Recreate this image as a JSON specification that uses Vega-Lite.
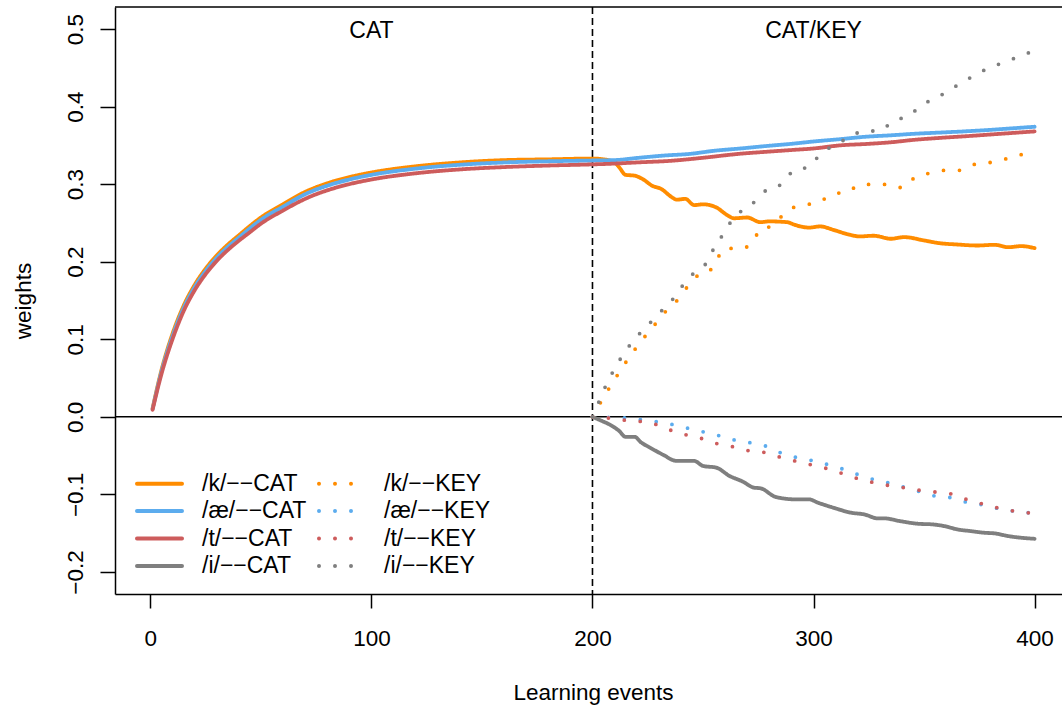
{
  "$schema": "https://vega.github.io/schema/vega-lite/v6.json",
  "width": 947,
  "height": 587,
  "autosize": {"type": "none"},
  "padding": {"left": 115, "top": 7, "right": 0, "bottom": 114},
  "background": "white",
  "config": {
    "font": "Liberation Sans",
    "view": {"stroke": null},
    "axis": {"grid": false, "domainColor": "black", "domainWidth": 1.5, "tickColor": "black", "tickWidth": 1.5, "labelColor": "black", "titleColor": "black", "labelFontSize": 22.5, "titleFontSize": 22.5, "titleFontWeight": "normal", "labelOverlap": false, "labelFlush": false}
  },
  "datasets": {
    "one": [{}],
    "series": [
    {"s":"/k/−−CAT","x":1,"w":0.011},{"s":"/k/−−CAT","x":5,"w":0.060},{"s":"/k/−−CAT","x":10,"w":0.107},{"s":"/k/−−CAT","x":15,"w":0.143},{"s":"/k/−−CAT","x":20,"w":0.170},{"s":"/k/−−CAT","x":25,"w":0.191},{"s":"/k/−−CAT","x":30,"w":0.208},{"s":"/k/−−CAT","x":35,"w":0.222},{"s":"/k/−−CAT","x":40,"w":0.234},{"s":"/k/−−CAT","x":45,"w":0.246},{"s":"/k/−−CAT","x":50,"w":0.257},{"s":"/k/−−CAT","x":60,"w":0.274},{"s":"/k/−−CAT","x":70,"w":0.290},{"s":"/k/−−CAT","x":80,"w":0.301},{"s":"/k/−−CAT","x":90,"w":0.309},{"s":"/k/−−CAT","x":100,"w":0.315},{"s":"/k/−−CAT","x":120,"w":0.323},{"s":"/k/−−CAT","x":140,"w":0.328},{"s":"/k/−−CAT","x":160,"w":0.331},{"s":"/k/−−CAT","x":180,"w":0.332},{"s":"/k/−−CAT","x":200,"w":0.333},
    {"s":"/k/−−CAT","x":205,"w":0.332},{"s":"/k/−−CAT","x":210,"w":0.328},{"s":"/k/−−CAT","x":212,"w":0.322},{"s":"/k/−−CAT","x":215,"w":0.312},{"s":"/k/−−CAT","x":219,"w":0.311},{"s":"/k/−−CAT","x":223,"w":0.306},{"s":"/k/−−CAT","x":227,"w":0.298},{"s":"/k/−−CAT","x":231,"w":0.294},{"s":"/k/−−CAT","x":236,"w":0.283},{"s":"/k/−−CAT","x":238,"w":0.280},{"s":"/k/−−CAT","x":242,"w":0.281},{"s":"/k/−−CAT","x":246,"w":0.273},{"s":"/k/−−CAT","x":250,"w":0.274},{"s":"/k/−−CAT","x":256,"w":0.270},{"s":"/k/−−CAT","x":261,"w":0.260},{"s":"/k/−−CAT","x":264,"w":0.256},{"s":"/k/−−CAT","x":270,"w":0.257},{"s":"/k/−−CAT","x":276,"w":0.251},{"s":"/k/−−CAT","x":280,"w":0.252},{"s":"/k/−−CAT","x":288,"w":0.251},{"s":"/k/−−CAT","x":292,"w":0.247},{"s":"/k/−−CAT","x":298,"w":0.244},{"s":"/k/−−CAT","x":303,"w":0.2455},{"s":"/k/−−CAT","x":309,"w":0.241},{"s":"/k/−−CAT","x":316,"w":0.235},{"s":"/k/−−CAT","x":321,"w":0.2326},{"s":"/k/−−CAT","x":327,"w":0.2335},{"s":"/k/−−CAT","x":335,"w":0.2296},{"s":"/k/−−CAT","x":341,"w":0.2317},{"s":"/k/−−CAT","x":350,"w":0.2274},{"s":"/k/−−CAT","x":357,"w":0.2239},{"s":"/k/−−CAT","x":365,"w":0.2222},{"s":"/k/−−CAT","x":374,"w":0.2209},{"s":"/k/−−CAT","x":382,"w":0.2218},{"s":"/k/−−CAT","x":388,"w":0.2187},{"s":"/k/−−CAT","x":394,"w":0.2201},{"s":"/k/−−CAT","x":400,"w":0.2175},

    {"s":"/æ/−−CAT","x":1,"w":0.010},{"s":"/æ/−−CAT","x":5,"w":0.058},{"s":"/æ/−−CAT","x":10,"w":0.104},{"s":"/æ/−−CAT","x":15,"w":0.140},{"s":"/æ/−−CAT","x":20,"w":0.167},{"s":"/æ/−−CAT","x":25,"w":0.188},{"s":"/æ/−−CAT","x":30,"w":0.205},{"s":"/æ/−−CAT","x":35,"w":0.219},{"s":"/æ/−−CAT","x":40,"w":0.231},{"s":"/æ/−−CAT","x":45,"w":0.243},{"s":"/æ/−−CAT","x":50,"w":0.254},{"s":"/æ/−−CAT","x":60,"w":0.271},{"s":"/æ/−−CAT","x":70,"w":0.287},{"s":"/æ/−−CAT","x":80,"w":0.298},{"s":"/æ/−−CAT","x":90,"w":0.306},{"s":"/æ/−−CAT","x":100,"w":0.312},{"s":"/æ/−−CAT","x":120,"w":0.320},{"s":"/æ/−−CAT","x":140,"w":0.325},{"s":"/æ/−−CAT","x":160,"w":0.328},{"s":"/æ/−−CAT","x":180,"w":0.3295},{"s":"/æ/−−CAT","x":200,"w":0.3305},
    {"s":"/æ/−−CAT","x":210,"w":0.331},{"s":"/æ/−−CAT","x":221,"w":0.334},{"s":"/æ/−−CAT","x":233,"w":0.337},{"s":"/æ/−−CAT","x":244,"w":0.339},{"s":"/æ/−−CAT","x":255,"w":0.343},{"s":"/æ/−−CAT","x":267,"w":0.346},{"s":"/æ/−−CAT","x":278,"w":0.349},{"s":"/æ/−−CAT","x":290,"w":0.352},{"s":"/æ/−−CAT","x":300,"w":0.355},{"s":"/æ/−−CAT","x":312,"w":0.358},{"s":"/æ/−−CAT","x":323,"w":0.361},{"s":"/æ/−−CAT","x":335,"w":0.363},{"s":"/æ/−−CAT","x":346,"w":0.365},{"s":"/æ/−−CAT","x":357,"w":0.3665},{"s":"/æ/−−CAT","x":368,"w":0.368},{"s":"/æ/−−CAT","x":380,"w":0.370},{"s":"/æ/−−CAT","x":390,"w":0.372},{"s":"/æ/−−CAT","x":400,"w":0.374},

    {"s":"/t/−−CAT","x":1,"w":0.009},{"s":"/t/−−CAT","x":5,"w":0.055},{"s":"/t/−−CAT","x":10,"w":0.100},{"s":"/t/−−CAT","x":15,"w":0.136},{"s":"/t/−−CAT","x":20,"w":0.163},{"s":"/t/−−CAT","x":25,"w":0.184},{"s":"/t/−−CAT","x":30,"w":0.201},{"s":"/t/−−CAT","x":35,"w":0.215},{"s":"/t/−−CAT","x":40,"w":0.227},{"s":"/t/−−CAT","x":45,"w":0.238},{"s":"/t/−−CAT","x":50,"w":0.249},{"s":"/t/−−CAT","x":60,"w":0.266},{"s":"/t/−−CAT","x":70,"w":0.281},{"s":"/t/−−CAT","x":80,"w":0.292},{"s":"/t/−−CAT","x":90,"w":0.300},{"s":"/t/−−CAT","x":100,"w":0.306},{"s":"/t/−−CAT","x":120,"w":0.314},{"s":"/t/−−CAT","x":140,"w":0.319},{"s":"/t/−−CAT","x":160,"w":0.322},{"s":"/t/−−CAT","x":180,"w":0.324},{"s":"/t/−−CAT","x":200,"w":0.3255},
    {"s":"/t/−−CAT","x":210,"w":0.3265},{"s":"/t/−−CAT","x":220,"w":0.328},{"s":"/t/−−CAT","x":235,"w":0.330},{"s":"/t/−−CAT","x":250,"w":0.334},{"s":"/t/−−CAT","x":266,"w":0.339},{"s":"/t/−−CAT","x":280,"w":0.342},{"s":"/t/−−CAT","x":290,"w":0.344},{"s":"/t/−−CAT","x":300,"w":0.346},{"s":"/t/−−CAT","x":312,"w":0.350},{"s":"/t/−−CAT","x":325,"w":0.352},{"s":"/t/−−CAT","x":335,"w":0.354},{"s":"/t/−−CAT","x":345,"w":0.357},{"s":"/t/−−CAT","x":357,"w":0.3596},{"s":"/t/−−CAT","x":370,"w":0.362},{"s":"/t/−−CAT","x":380,"w":0.364},{"s":"/t/−−CAT","x":390,"w":0.366},{"s":"/t/−−CAT","x":400,"w":0.368},

    {"s":"/i/−−CAT","x":200,"w":0},{"s":"/i/−−CAT","x":204,"w":-0.005},{"s":"/i/−−CAT","x":208,"w":-0.0103},{"s":"/i/−−CAT","x":212,"w":-0.018},{"s":"/i/−−CAT","x":215,"w":-0.0258},{"s":"/i/−−CAT","x":219,"w":-0.0258},{"s":"/i/−−CAT","x":222,"w":-0.033},{"s":"/i/−−CAT","x":226,"w":-0.0396},{"s":"/i/−−CAT","x":232,"w":-0.049},{"s":"/i/−−CAT","x":238,"w":-0.0568},{"s":"/i/−−CAT","x":246,"w":-0.0568},{"s":"/i/−−CAT","x":250,"w":-0.0633},{"s":"/i/−−CAT","x":256,"w":-0.0655},{"s":"/i/−−CAT","x":262,"w":-0.0762},{"s":"/i/−−CAT","x":268,"w":-0.0835},{"s":"/i/−−CAT","x":273,"w":-0.0913},{"s":"/i/−−CAT","x":276,"w":-0.0921},{"s":"/i/−−CAT","x":283,"w":-0.1034},{"s":"/i/−−CAT","x":292,"w":-0.1064},{"s":"/i/−−CAT","x":298,"w":-0.1064},{"s":"/i/−−CAT","x":302,"w":-0.1107},{"s":"/i/−−CAT","x":309,"w":-0.1172},{"s":"/i/−−CAT","x":317,"w":-0.1236},{"s":"/i/−−CAT","x":323,"w":-0.1258},{"s":"/i/−−CAT","x":329,"w":-0.1309},{"s":"/i/−−CAT","x":332,"w":-0.1309},{"s":"/i/−−CAT","x":339,"w":-0.1344},{"s":"/i/−−CAT","x":347,"w":-0.1378},{"s":"/i/−−CAT","x":354,"w":-0.1387},{"s":"/i/−−CAT","x":359,"w":-0.1408},{"s":"/i/−−CAT","x":365,"w":-0.1451},{"s":"/i/−−CAT","x":371,"w":-0.1473},{"s":"/i/−−CAT","x":377,"w":-0.1494},{"s":"/i/−−CAT","x":382,"w":-0.1503},{"s":"/i/−−CAT","x":388,"w":-0.1537},{"s":"/i/−−CAT","x":394,"w":-0.1559},{"s":"/i/−−CAT","x":400,"w":-0.1572},

    {"s":"/k/−−KEY","x":200,"w":0},{"s":"/k/−−KEY","x":205,"w":0.025},{"s":"/k/−−KEY","x":210,"w":0.048},{"s":"/k/−−KEY","x":215,"w":0.070},{"s":"/k/−−KEY","x":220,"w":0.090},{"s":"/k/−−KEY","x":225,"w":0.108},{"s":"/k/−−KEY","x":230,"w":0.125},{"s":"/k/−−KEY","x":235,"w":0.142},{"s":"/k/−−KEY","x":239,"w":0.152},{"s":"/k/−−KEY","x":243,"w":0.168},{"s":"/k/−−KEY","x":247,"w":0.181},{"s":"/k/−−KEY","x":252,"w":0.185},{"s":"/k/−−KEY","x":256,"w":0.2016},{"s":"/k/−−KEY","x":260,"w":0.2175},{"s":"/k/−−KEY","x":266,"w":0.2166},{"s":"/k/−−KEY","x":272,"w":0.2226},{"s":"/k/−−KEY","x":276,"w":0.2425},{"s":"/k/−−KEY","x":281,"w":0.2459},{"s":"/k/−−KEY","x":286,"w":0.2597},{"s":"/k/−−KEY","x":291,"w":0.270},{"s":"/k/−−KEY","x":297,"w":0.2735},{"s":"/k/−−KEY","x":303,"w":0.2778},{"s":"/k/−−KEY","x":309,"w":0.2877},{"s":"/k/−−KEY","x":315,"w":0.2894},{"s":"/k/−−KEY","x":321,"w":0.2993},{"s":"/k/−−KEY","x":327,"w":0.2997},{"s":"/k/−−KEY","x":334,"w":0.2997},{"s":"/k/−−KEY","x":340,"w":0.2955},{"s":"/k/−−KEY","x":346,"w":0.3088},{"s":"/k/−−KEY","x":353,"w":0.3144},{"s":"/k/−−KEY","x":360,"w":0.3178},{"s":"/k/−−KEY","x":366,"w":0.3178},{"s":"/k/−−KEY","x":373,"w":0.3256},{"s":"/k/−−KEY","x":380,"w":0.328},{"s":"/k/−−KEY","x":387,"w":0.3325},{"s":"/k/−−KEY","x":394,"w":0.338},{"s":"/k/−−KEY","x":400,"w":0.341},

    {"s":"/æ/−−KEY","x":200,"w":0},{"s":"/æ/−−KEY","x":210,"w":-0.001},{"s":"/æ/−−KEY","x":217,"w":-0.002},{"s":"/æ/−−KEY","x":225,"w":-0.005},{"s":"/æ/−−KEY","x":233,"w":-0.008},{"s":"/æ/−−KEY","x":241,"w":-0.0133},{"s":"/æ/−−KEY","x":248,"w":-0.018},{"s":"/æ/−−KEY","x":256,"w":-0.0233},{"s":"/æ/−−KEY","x":264,"w":-0.0297},{"s":"/æ/−−KEY","x":271,"w":-0.0332},{"s":"/æ/−−KEY","x":279,"w":-0.0383},{"s":"/æ/−−KEY","x":286,"w":-0.0474},{"s":"/æ/−−KEY","x":294,"w":-0.0534},{"s":"/æ/−−KEY","x":301,"w":-0.0573},{"s":"/æ/−−KEY","x":309,"w":-0.0637},{"s":"/æ/−−KEY","x":316,"w":-0.0698},{"s":"/æ/−−KEY","x":323,"w":-0.0775},{"s":"/æ/−−KEY","x":331,"w":-0.0831},{"s":"/æ/−−KEY","x":339,"w":-0.0891},{"s":"/æ/−−KEY","x":346,"w":-0.0947},{"s":"/æ/−−KEY","x":354,"w":-0.1016},{"s":"/æ/−−KEY","x":362,"w":-0.1042},{"s":"/æ/−−KEY","x":370,"w":-0.1107},{"s":"/æ/−−KEY","x":378,"w":-0.1141},{"s":"/æ/−−KEY","x":385,"w":-0.1193},{"s":"/æ/−−KEY","x":393,"w":-0.1223},{"s":"/æ/−−KEY","x":400,"w":-0.1245},

    {"s":"/t/−−KEY","x":200,"w":0},{"s":"/t/−−KEY","x":209,"w":-0.002},{"s":"/t/−−KEY","x":217,"w":-0.0052},{"s":"/t/−−KEY","x":225,"w":-0.0065},{"s":"/t/−−KEY","x":232,"w":-0.0138},{"s":"/t/−−KEY","x":240,"w":-0.0216},{"s":"/t/−−KEY","x":248,"w":-0.0267},{"s":"/t/−−KEY","x":255,"w":-0.0336},{"s":"/t/−−KEY","x":263,"w":-0.0383},{"s":"/t/−−KEY","x":271,"w":-0.0439},{"s":"/t/−−KEY","x":279,"w":-0.0465},{"s":"/t/−−KEY","x":286,"w":-0.053},{"s":"/t/−−KEY","x":294,"w":-0.0585},{"s":"/t/−−KEY","x":301,"w":-0.0633},{"s":"/t/−−KEY","x":309,"w":-0.0689},{"s":"/t/−−KEY","x":316,"w":-0.0762},{"s":"/t/−−KEY","x":324,"w":-0.0827},{"s":"/t/−−KEY","x":332,"w":-0.0875},{"s":"/t/−−KEY","x":339,"w":-0.0904},{"s":"/t/−−KEY","x":347,"w":-0.0943},{"s":"/t/−−KEY","x":355,"w":-0.0969},{"s":"/t/−−KEY","x":363,"w":-0.0999},{"s":"/t/−−KEY","x":370,"w":-0.1072},{"s":"/t/−−KEY","x":378,"w":-0.1133},{"s":"/t/−−KEY","x":386,"w":-0.1193},{"s":"/t/−−KEY","x":394,"w":-0.1227},{"s":"/t/−−KEY","x":400,"w":-0.1245},

    {"s":"/i/−−KEY","x":200,"w":0},{"s":"/i/−−KEY","x":203,"w":0.020},{"s":"/i/−−KEY","x":206,"w":0.040},{"s":"/i/−−KEY","x":210,"w":0.062},{"s":"/i/−−KEY","x":215,"w":0.085},{"s":"/i/−−KEY","x":220,"w":0.103},{"s":"/i/−−KEY","x":225,"w":0.118},{"s":"/i/−−KEY","x":230,"w":0.133},{"s":"/i/−−KEY","x":237,"w":0.154},{"s":"/i/−−KEY","x":241,"w":0.170},{"s":"/i/−−KEY","x":246,"w":0.1857},{"s":"/i/−−KEY","x":251,"w":0.1964},{"s":"/i/−−KEY","x":255,"w":0.2175},{"s":"/i/−−KEY","x":259,"w":0.235},{"s":"/i/−−KEY","x":263,"w":0.253},{"s":"/i/−−KEY","x":268,"w":0.267},{"s":"/i/−−KEY","x":274,"w":0.2787},{"s":"/i/−−KEY","x":279,"w":0.2933},{"s":"/i/−−KEY","x":286,"w":0.3006},{"s":"/i/−−KEY","x":291,"w":0.3178},{"s":"/i/−−KEY","x":298,"w":0.3226},{"s":"/i/−−KEY","x":303,"w":0.3385},{"s":"/i/−−KEY","x":309,"w":0.3497},{"s":"/i/−−KEY","x":316,"w":0.360},{"s":"/i/−−KEY","x":322,"w":0.368},{"s":"/i/−−KEY","x":330,"w":0.369},{"s":"/i/−−KEY","x":336,"w":0.3815},{"s":"/i/−−KEY","x":343,"w":0.388},{"s":"/i/−−KEY","x":349,"w":0.402},{"s":"/i/−−KEY","x":356,"w":0.412},{"s":"/i/−−KEY","x":366,"w":0.429},{"s":"/i/−−KEY","x":378,"w":0.448},{"s":"/i/−−KEY","x":388,"w":0.459},{"s":"/i/−−KEY","x":397,"w":0.469},{"s":"/i/−−KEY","x":400,"w":0.472}
    ]
  },
  "layer": [
    {
      "data": {"name": "one"},
      "mark": {"type": "rule", "color": "black", "strokeWidth": 1.5},
      "encoding": {"y": {"datum": 0.5284}}
    },
    {
      "data": {"name": "one"},
      "mark": {"type": "rule", "color": "black", "strokeWidth": 1.5},
      "encoding": {"y": {"datum": 0}}
    },
    {
      "data": {"name": "one"},
      "mark": {"type": "rule", "color": "black", "strokeWidth": 1.6, "strokeDash": [7, 4]},
      "encoding": {"x": {"datum": 200}}
    },
    {
      "data": {"name": "one"},
      "mark": {"type": "text", "text": "CAT", "fontSize": 23, "baseline": "middle", "align": "center", "color": "black"},
      "encoding": {"x": {"datum": 100}, "y": {"datum": 0.497}}
    },
    {
      "data": {"name": "one"},
      "mark": {"type": "text", "text": "CAT/KEY", "fontSize": 23, "baseline": "middle", "align": "center", "color": "black"},
      "encoding": {"x": {"datum": 300}, "y": {"datum": 0.497}}
    },
    {
      "data": {"name": "series"},
      "mark": {"type": "line", "strokeWidth": 3.8, "strokeCap": "round", "strokeJoin": "round", "interpolate": "monotone"},
      "encoding": {
        "x": {"field": "x", "type": "quantitative"},
        "y": {"field": "w", "type": "quantitative"},
        "color": {
          "field": "s", "type": "nominal",
          "scale": {
            "domain": ["/k/−−CAT", "/æ/−−CAT", "/t/−−CAT", "/i/−−CAT", "/k/−−KEY", "/æ/−−KEY", "/t/−−KEY", "/i/−−KEY"],
            "range": ["#FF8C00", "#5CACEE", "#CD5C5C", "#7F7F7F", "#FF8C00", "#5CACEE", "#CD5C5C", "#7F7F7F"]
          },
          "legend": {
            "title": null, "orient": "none", "legendX": 31, "legendY": 463, "columns": 2,
            "symbolType": "M-2,0L2,0", "symbolSize": 506.25, "symbolStrokeWidth": 4,
            "labelFontSize": 23, "labelColor": "black", "labelOffset": 29, "labelLimit": 0,
            "columnPadding": 4, "rowPadding": 1.5,
            "encode": {"symbols": {"update": {"strokeCap": {"value": "round"}}}}
          }
        },
        "strokeDash": {
          "field": "s", "type": "nominal",
          "scale": {
            "domain": ["/k/−−CAT", "/æ/−−CAT", "/t/−−CAT", "/i/−−CAT", "/k/−−KEY", "/æ/−−KEY", "/t/−−KEY", "/i/−−KEY"],
            "range": [[1, 0], [1, 0], [1, 0], [1, 0], [0, 16], [0, 16], [0, 16], [0, 16]]
          },
          "legend": {
            "title": null, "orient": "none", "legendX": 31, "legendY": 463, "columns": 2,
            "symbolType": "M-2,0L2,0", "symbolSize": 506.25, "symbolStrokeWidth": 4,
            "labelFontSize": 23, "labelColor": "black", "labelOffset": 29, "labelLimit": 0,
            "columnPadding": 4, "rowPadding": 1.5,
            "encode": {"symbols": {"update": {"strokeCap": {"value": "round"}}}}
          }
        }
      }
    }
  ],
  "encoding": {
    "x": {
      "type": "quantitative",
      "scale": {"domain": [-16, 412.4], "nice": false, "zero": false},
      "axis": {"values": [0, 100, 200, 300, 400], "format": "d", "tickSize": 14, "labelBaseline": "alphabetic", "labelPadding": 37, "title": "Learning events", "titleX": 478, "titleY": 105, "titleBaseline": "alphabetic", "titleAlign": "center", "titleAnchor": null}
    },
    "y": {
      "type": "quantitative",
      "scale": {"domain": [-0.2284, 0.5284], "nice": false, "zero": false},
      "axis": {"values": [-0.2, -0.1, 0, 0.1, 0.2, 0.3, 0.4, 0.5], "format": ".1f", "tickSize": 15, "labelAngle": 270, "labelAlign": "center", "labelBaseline": "alphabetic", "labelPadding": 18, "title": "weights", "titleX": -85, "titleY": 293.5, "titleAngle": 270, "titleBaseline": "alphabetic", "titleAlign": "center"}
    }
  }
}
